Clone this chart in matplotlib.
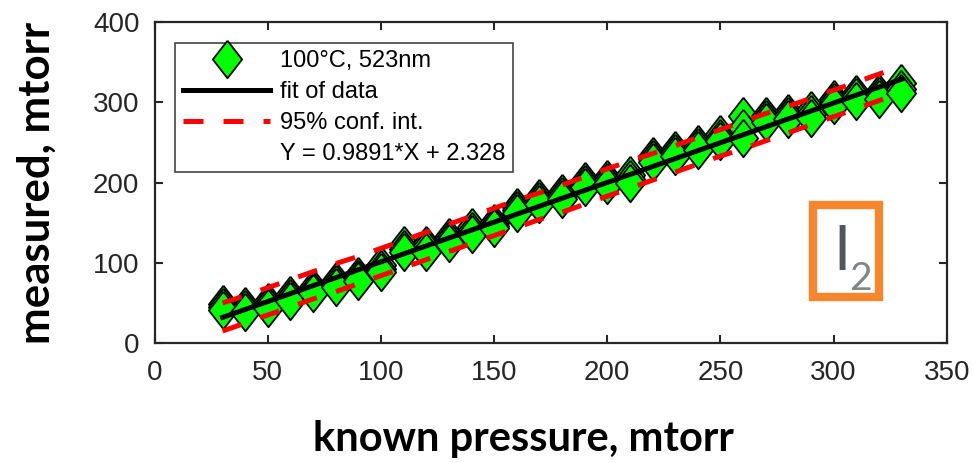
import matplotlib
matplotlib.use('Agg')
import matplotlib.pyplot as plt
from matplotlib.lines import Line2D

# known pressure set points (mtorr)
known_x = [30, 40, 50, 60, 70, 80, 90, 100, 110, 120, 130, 140, 150, 160, 170, 180,
           190, 200, 210, 220, 230, 240, 250, 260, 270, 280, 290, 300, 310, 320, 330]

# measured pressure, three repeated runs (mtorr)
meas_run1 = [49, 46, 51, 60, 69, 77, 84, 97, 122, 122, 132, 144, 150, 170, 181, 187,
             202, 205, 210, 233, 241, 248, 260, 283, 283, 287, 290, 304, 310, 312, 324]
meas_run2 = [45, 42, 47, 56, 65, 73, 80, 92, 117, 118, 128, 140, 146, 166, 177, 183,
             198, 201, 205, 229, 237, 244, 256, 268, 279, 283, 285, 300, 306, 308, 316]
meas_run3 = [41, 39, 44, 53, 62, 70, 77, 88, 113, 114, 125, 136, 143, 162, 173, 180,
             194, 197, 199, 225, 233, 240, 252, 256, 275, 279, 281, 296, 302, 304, 312]

# linear fit Y = 0.9891*X + 2.328, end points
fit_x = [30, 330]
fit_y = [32.0, 328.7]

# 95% confidence bounds
ci_upper = [50, 59, 69, 79, 89, 99, 108, 118, 128, 138, 148, 158, 168, 178, 187, 197,
            207, 217, 227, 236, 246, 256, 266, 276, 286, 295, 305, 315, 325, 335, 345]
ci_lower = [15, 25, 35, 45, 55, 64, 74, 84, 94, 104, 114, 124, 134, 144, 154, 163,
            173, 183, 193, 203, 213, 223, 233, 242, 252, 262, 272, 282, 292, 302, 312]

x_ticks = [0, 50, 100, 150, 200, 250, 300, 350]
y_ticks = [0, 100, 200, 300, 400]

diamond = [(0, 1), (0.78, 0), (0, -1), (-0.78, 0), (0, 1)]
axcol = '#262626'
msize = 27

fig = plt.figure(figsize=(9.73, 4.63), dpi=100)
ax = fig.add_axes([0.159, 0.259, 0.814, 0.6935])

for run in [meas_run1, meas_run2, meas_run3]:
    ax.plot(known_x, run, linestyle='none', marker=diamond, ms=msize,
            mfc='#00ff00', mec='black', mew=1.3, zorder=2)

ax.plot(fit_x, fit_y, color='black', lw=3.6, zorder=3)
ax.plot(known_x, ci_upper, color='#ff0000', lw=3.6, dashes=(4, 4), zorder=4)
ax.plot(known_x, ci_lower, color='#ff0000', lw=3.6, dashes=(4, 4), zorder=4)

ax.set_xlim(0, 350)
ax.set_ylim(0, 400)
ax.set_xticks(x_ticks)
ax.set_yticks(y_ticks)
ax.tick_params(direction='in', length=6, width=1.5, colors=axcol, labelsize=20,
               top=True, right=True)
ax.tick_params(axis='x', pad=12)
ax.tick_params(axis='y', pad=11)
for lab in ax.get_xticklabels() + ax.get_yticklabels():
    lab.set_family(['Liberation Sans', 'DejaVu Sans'])
for s in ax.spines.values():
    s.set_linewidth(1.6)
    s.set_color(axcol)

ax.set_xlabel('known pressure, mtorr', fontsize=30, fontweight='bold',
              family=['Lato', 'DejaVu Sans'])
ax.set_ylabel('measured, mtorr', fontsize=31.5, fontweight='bold',
              family=['Lato', 'DejaVu Sans'])
ax.xaxis.set_label_coords(0.465, -0.24)
ax.yaxis.set_label_coords(-0.124, 0.5)

handles = [
    Line2D([], [], linestyle='none', marker=diamond, ms=msize, mfc='#00ff00', mec='black', mew=1.3),
    Line2D([], [], color='black', lw=3.6),
    Line2D([], [], color='#ff0000', lw=3.6, dashes=(4, 4)),
    Line2D([], [], linestyle='none'),
]
labels = ['100°C, 523nm', 'fit of data', '95% conf. int.', 'Y = 0.9891*X + 2.328']
leg = ax.legend(handles, labels, loc='upper left', bbox_to_anchor=(0.026, 0.935),
                borderaxespad=0, fancybox=False, handlelength=3.7, handletextpad=0.4,
                labelspacing=0.37, borderpad=0.32, numpoints=1,
                prop={'family': ['Liberation Sans', 'DejaVu Sans'], 'size': 17})
leg.get_frame().set_edgecolor('#444444')
leg.get_frame().set_linewidth(1.2)
leg.get_frame().set_alpha(1)

# I2 label box
ax.add_patch(plt.Rectangle((291, 57), 29, 115, transform=ax.transData, fill=False,
                           edgecolor='#f5862e', lw=6, zorder=5))
ax.text(303.5, 113, 'I', fontsize=44, color='#50565c', ha='center', va='center',
        family=['Lato', 'DejaVu Sans'], fontweight='normal', zorder=6)
ax.text(312, 80, '2', fontsize=28, color='#80858a', ha='center', va='center',
        family=['Lato', 'DejaVu Sans'], fontweight='normal', zorder=6)

fig.savefig('out.png', dpi=100)
